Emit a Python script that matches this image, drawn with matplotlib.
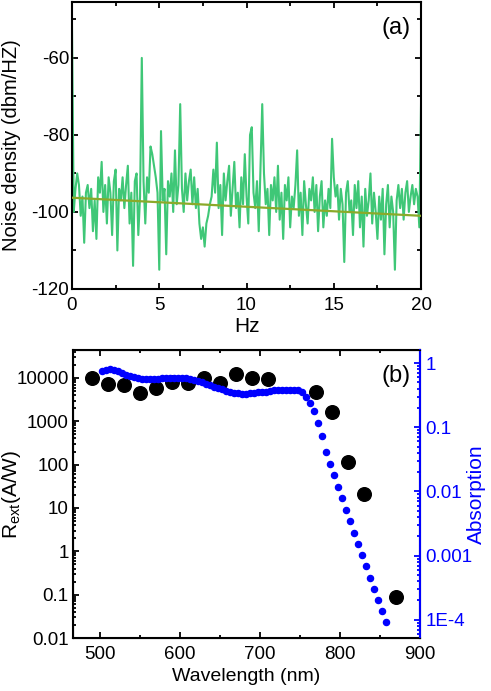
import matplotlib
matplotlib.use("Agg")
import matplotlib.pyplot as plt
from matplotlib.ticker import MultipleLocator, LogLocator, FixedLocator, FixedFormatter, NullFormatter

plt.rcParams["font.family"] = ["Liberation Sans", "DejaVu Sans"]
plt.rcParams["mathtext.fontset"] = "custom"
plt.rcParams["mathtext.rm"] = "Liberation Sans"
plt.rcParams["mathtext.it"] = "Liberation Sans"
plt.rcParams["axes.unicode_minus"] = False

# =====================================================
# PANEL (a) DATA : NOISE DENSITY
# =====================================================

freq_hz = [i / 10.0 for i in range(201)]

noise_db = [
    -52, -100, -94, -90, -93, -101, -96, -108, -95, -93,
    -99, -94, -105, -97, -107, -91, -95, -87, -100, -93,
    -103, -91, -95, -106, -92, -89, -110, -94, -97, -91,
    -99, -93, -88, -103, -95, -114, -92, -90, -106, -96,
    -60, -92, -103, -91, -95, -83, -85, -88, -91, -95,
    -115, -79, -97, -94, -111, -92, -96, -90, -100, -84,
    -98, -93, -72, -94, -100, -90, -97, -92, -89, -98,
    -91, -99, -94, -103, -107, -104, -109, -103, -101, -98,
    -96, -89, -95, -82, -99, -93, -106, -90, -97, -92,
    -88, -101, -94, -87, -99, -95, -104, -91, -98, -85,
    -96, -103, -80, -78, -95, -99, -92, -105, -89, -72,
    -90, -98, -94, -106, -93, -97, -91, -100, -88, -102,
    -95, -107, -93, -97, -91, -104, -96, -99, -93, -84,
    -101, -95, -106, -92, -98, -103, -94, -97, -91, -100,
    -93, -105, -96, -92, -104, -97, -101, -94, -99, -81,
    -91, -96, -93, -102, -94, -98, -113, -95, -92, -100,
    -97, -106, -93, -99, -92, -104, -96, -109, -94, -101,
    -97, -90, -103, -95, -100, -107, -96, -102, -94, -111,
    -98, -93, -104, -96, -100, -115, -97, -93, -99, -94,
    -102, -95, -92, -100, -96, -93, -98, -94, -96, -104,
    -71,
]

fit_x = [0.0, 20.0]
fit_y = [-96.3, -101.0]

# =====================================================
# PANEL (b) DATA : RESPONSIVITY AND ABSORPTION
# =====================================================

rext_wl = [490, 510, 530, 550, 570, 590, 610, 630, 650, 670, 690, 710,
           770, 790, 810, 830, 870]
rext_val = [10000, 7200, 6900, 4400, 5800, 8200, 7500, 9800, 7500, 12000,
            9800, 9300, 4800, 1670, 117, 20.6, 0.09]

abs_wl = [502, 507, 512, 517, 522, 527, 532, 537, 542, 547,
          552, 557, 562, 567, 572, 577, 582, 587, 592, 597,
          602, 607, 612, 617, 622, 627, 632, 637, 642, 647,
          652, 657, 662, 667, 672, 677, 682, 687, 692, 697,
          702, 707, 712, 717, 722, 727, 732, 737, 742, 747,
          752, 757, 762, 767, 772, 777, 782, 787, 792, 797,
          802, 807, 812, 817, 822, 827, 832, 837, 842, 847,
          852, 857]
abs_val = [0.76, 0.79, 0.80, 0.78, 0.74, 0.69, 0.65, 0.62, 0.60, 0.58,
           0.575, 0.57, 0.57, 0.57, 0.575, 0.58, 0.585, 0.59, 0.595, 0.595,
           0.59, 0.58, 0.57, 0.55, 0.53, 0.50, 0.48, 0.46, 0.43, 0.41,
           0.39, 0.37, 0.355, 0.345, 0.34, 0.335, 0.335, 0.34, 0.345, 0.35,
           0.355, 0.36, 0.37, 0.375, 0.38, 0.385, 0.385, 0.385, 0.385, 0.375,
           0.35, 0.30, 0.24, 0.178, 0.117, 0.072, 0.041, 0.027, 0.018, 0.0118,
           0.0079, 0.0052, 0.0034, 0.00228, 0.0015, 0.00102, 0.00068, 0.00045, 0.00030, 0.000204,
           0.000137, 0.000091]

left_ticks = [0.01, 0.1, 1, 10, 100, 1000, 10000]
left_labels = ["0.01", "0.1", "1", "10", "100", "1000", "10000"]
right_ticks = [1e-4, 1e-3, 1e-2, 1e-1, 1]
right_labels = ["1E-4", "0.001", "0.01", "0.1", "1"]

# =====================================================
# FIGURE
# =====================================================

fig = plt.figure(figsize=(4.91, 6.91), dpi=100)

ax1 = fig.add_axes([0.1466, 0.5818, 0.711, 0.4152])
ax2 = fig.add_axes([0.1487, 0.0767, 0.7067, 0.4168])

# =====================================================
# PANEL (a)
# =====================================================

ax1.plot(freq_hz, noise_db, color="#3fc777", lw=1.5, zorder=2)
ax1.plot(fit_x, fit_y, color="#8aaa2a", lw=1.6, zorder=3)

ax1.set_xlim(0, 20)
ax1.set_ylim(-120, -45.5)
ax1.xaxis.set_major_locator(MultipleLocator(5))
ax1.xaxis.set_minor_locator(MultipleLocator(2.5))
ax1.yaxis.set_major_locator(MultipleLocator(20))
ax1.yaxis.set_minor_locator(MultipleLocator(10))
ax1.tick_params(which="both", direction="in", top=True, right=True,
                labelsize=13.5, width=1.3)
ax1.tick_params(which="major", length=4)
ax1.tick_params(axis="y", which="major", pad=2)
ax1.tick_params(axis="x", which="major", pad=6)
ax1.tick_params(which="minor", length=3)
ax1.set_xlabel("Hz", fontsize=15, labelpad=2)
ax1.set_ylabel("Noise density (dbm/HZ)", fontsize=14.5)
ax1.yaxis.set_label_coords(-0.145, 0.5)
for sp in ax1.spines.values():
    sp.set_linewidth(1.5)
ax1.text(0.969, 0.911, "(a)", transform=ax1.transAxes, fontsize=17,
         ha="right", va="center")

# =====================================================
# PANEL (b)
# =====================================================

ax2.plot(rext_wl, rext_val, "o", color="black", ms=9.8, zorder=2)
ax2.set_yscale("log")
ax2.set_xlim(466, 900)
ax2.set_ylim(0.01, 4.4e4)
ax2.xaxis.set_major_locator(MultipleLocator(100))
ax2.xaxis.set_minor_locator(MultipleLocator(50))
ax2.yaxis.set_major_locator(FixedLocator(left_ticks))
ax2.yaxis.set_major_formatter(FixedFormatter(left_labels))
ax2.yaxis.set_minor_locator(LogLocator(base=10, subs=range(2, 10), numticks=20))
ax2.yaxis.set_minor_formatter(NullFormatter())
ax2.tick_params(which="both", direction="in", top=True, labelsize=13.5, width=1.3)
ax2.tick_params(which="major", length=4)
ax2.tick_params(axis="y", which="major", pad=3)
ax2.tick_params(axis="x", which="major", pad=6)
ax2.tick_params(which="minor", length=2)
ax2.set_xlabel("Wavelength (nm)", fontsize=14, labelpad=3)
ax2.set_ylabel(r"R$_{\mathrm{ext}}$(A/W)", fontsize=15)
ax2.yaxis.set_label_coords(-0.143, 0.5)
for sp in ax2.spines.values():
    sp.set_linewidth(1.5)

ax3 = ax2.twinx()
ax3.plot(abs_wl, abs_val, "o", color="#0000ff", ms=4.4, zorder=3)
ax3.set_yscale("log")
ax3.set_ylim(5.2e-5, 1.6)
ax3.yaxis.set_major_locator(FixedLocator(right_ticks))
ax3.yaxis.set_major_formatter(FixedFormatter(right_labels))
ax3.yaxis.set_minor_locator(LogLocator(base=10, subs=range(2, 10), numticks=20))
ax3.yaxis.set_minor_formatter(NullFormatter())
ax3.tick_params(which="both", direction="in", colors="#0000ff",
                labelsize=13.5, width=1.3)
ax3.tick_params(which="major", length=4, pad=4)
ax3.tick_params(which="minor", length=2)
ax3.set_ylabel("Absorption", fontsize=15, color="#0000ff")
ax3.yaxis.set_label_coords(1.135, 0.5)
ax3.spines["right"].set_color("#0000ff")
ax3.spines["right"].set_linewidth(1.5)
ax2.text(0.974, 0.91, "(b)", transform=ax2.transAxes, fontsize=17,
         ha="right", va="center", zorder=5)

# =====================================================
# SAVE
# =====================================================

plt.savefig("out.png", dpi=100)
